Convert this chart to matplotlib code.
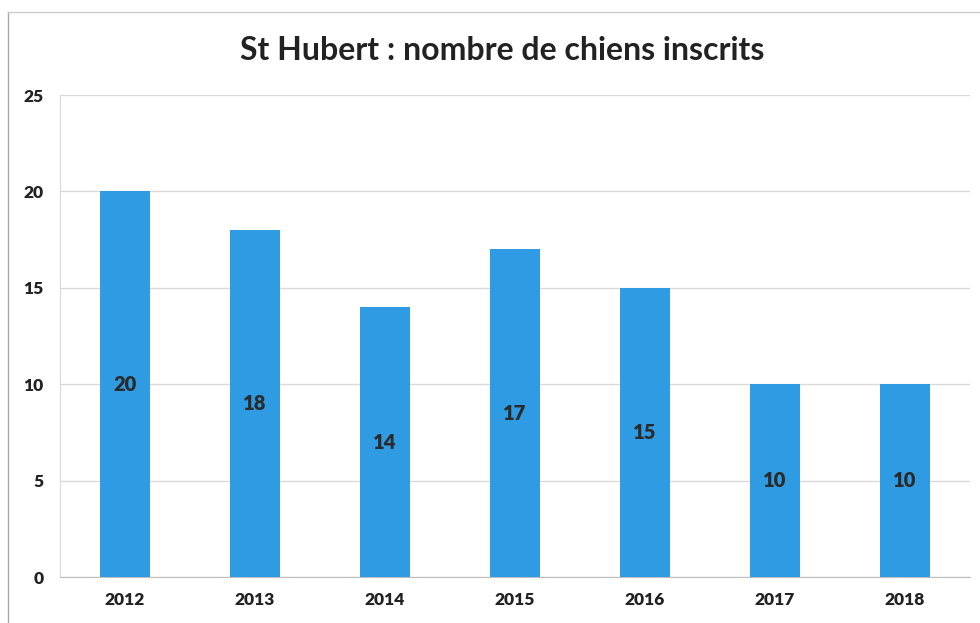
import matplotlib
matplotlib.use("Agg")
import matplotlib.pyplot as plt
from matplotlib.lines import Line2D

years = ["2012", "2013", "2014", "2015", "2016", "2017", "2018"]
counts = [20, 18, 14, 17, 15, 10, 10]
yticks = [0, 5, 10, 15, 20, 25]
title = "St Hubert : nombre de chiens inscrits"

plt.rcParams['font.family'] = ['Lato', 'DejaVu Sans']

fig = plt.figure(figsize=(9.8, 6.23), dpi=100)
ax = fig.add_axes([60/980, 1-577/623, 910/980, (577-95)/623])

x = list(range(len(years)))
bars = ax.bar(x, counts, width=0.385, color="#2E9BE3", zorder=3)
for xi, v in zip(x, counts):
    ax.text(xi, v/2, str(v), ha="center", va="center", fontsize=14.5,
            fontweight="heavy", color="#2a2a2a", zorder=4)

ax.set_xlim(-0.5, len(years)-0.5)
ax.set_ylim(0, 25)
ax.set_yticks(yticks)
ax.set_xticks(x)
ax.set_xticklabels(years)
ax.grid(axis="y", color="#d9d9d9", linewidth=1, zorder=0)
for s in ["top", "right"]:
    ax.spines[s].set_visible(False)
ax.spines["left"].set_color("#d9d9d9")
ax.spines["bottom"].set_color("#bfbfbf")
ax.tick_params(axis="x", length=0, labelsize=12.5, pad=11, colors="#222222")
ax.tick_params(axis="y", length=0, labelsize=12.5, pad=12, colors="#222222")
for lab in ax.get_xticklabels() + ax.get_yticklabels():
    lab.set_fontweight("heavy")

fig.text(0.512, 1-51/623, title, ha="center", va="center", fontsize=23,
         fontweight="bold", color="#222222")

# frame lines of the scanned chart
fig.add_artist(Line2D([8/980, 8/980], [0, 1-12/623], color="#aaaaaa", lw=1, transform=fig.transFigure))
fig.add_artist(Line2D([8/980, 1], [1-12/623, 1-12/623], color="#cccccc", lw=1, transform=fig.transFigure))

fig.savefig("out.png", dpi=100, facecolor="white")
